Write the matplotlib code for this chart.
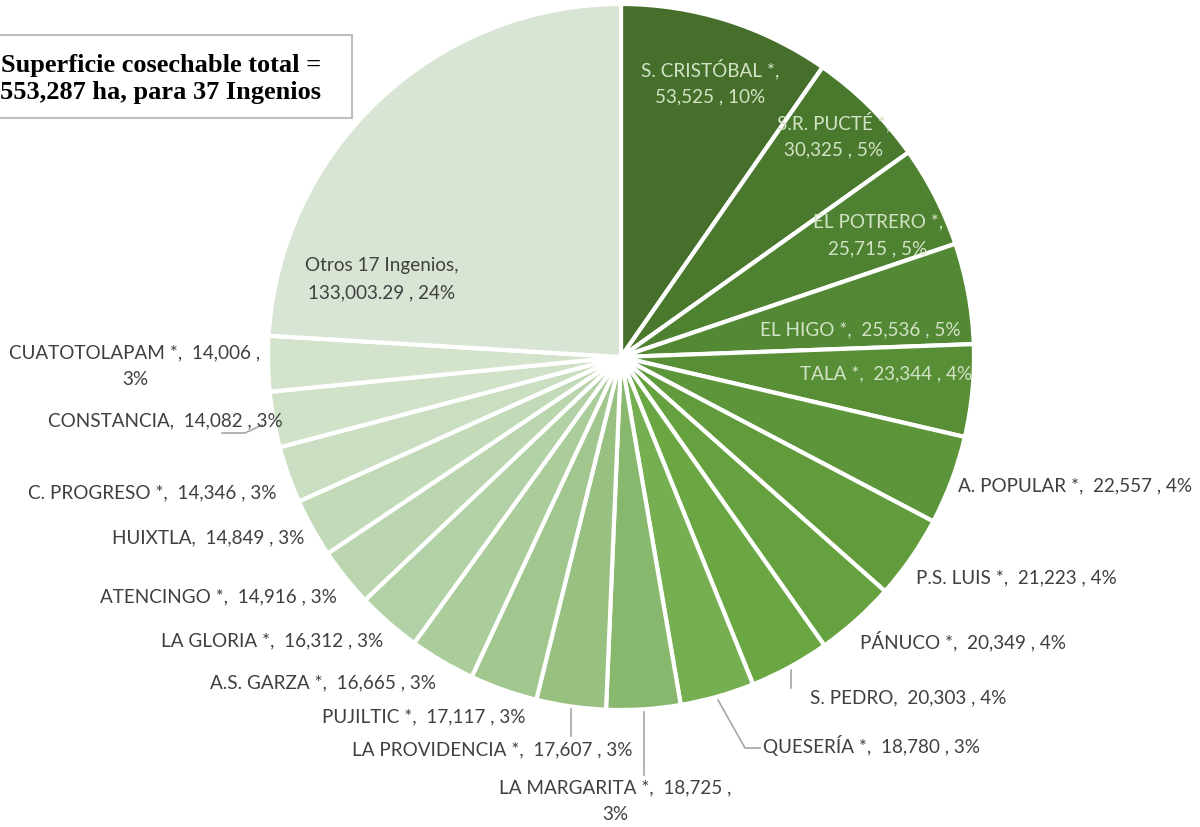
import matplotlib
matplotlib.use("Agg")
import matplotlib.pyplot as plt
from matplotlib.patches import Rectangle

# datos: superficie cosechable por ingenio (ha)
ingenios = ["S. CRISTÓBAL *", "S.R. PUCTÉ *", "EL POTRERO *", "EL HIGO *", "TALA *",
            "A. POPULAR *", "P.S. LUIS *", "PÁNUCO *", "S. PEDRO", "QUESERÍA *",
            "LA MARGARITA *", "LA PROVIDENCIA *", "PUJILTIC *", "A.S. GARZA *",
            "LA GLORIA *", "ATENCINGO *", "HUIXTLA", "C. PROGRESO *", "CONSTANCIA",
            "CUATOTOLAPAM *", "Otros 17 Ingenios"]
superficie = [53525, 30325, 25715, 25536, 23344, 22557, 21223, 20349, 20303, 18780,
              18725, 17607, 17117, 16665, 16312, 14916, 14849, 14346, 14082, 14006,
              133003.29]
etiquetas_valor = ["53,525", "30,325", "25,715", "25,536", "23,344", "22,557", "21,223",
                   "20,349", "20,303", "18,780", "18,725", "17,607", "17,117", "16,665",
                   "16,312", "14,916", "14,849", "14,346", "14,082", "14,006", "133,003.29"]
porcentajes = ["10%", "5%", "5%", "5%", "4%", "4%", "4%", "4%", "4%", "3%", "3%", "3%",
               "3%", "3%", "3%", "3%", "3%", "3%", "3%", "3%", "24%"]

colores = ["#466f2b", "#4a792e", "#4e8231", "#538934", "#578e36", "#5d963a", "#619b3c",
           "#66a13f", "#6aa742", "#76ae52", "#88b86e", "#97c081", "#a1c68e", "#abcc9b",
           "#b3d1a6", "#bbd6af", "#c3dab8", "#cadfc1", "#d0e2c8", "#d4e4cc", "#d9e5d4"]

W, H = 1200, 827


def y(v):
    return H - v


fig = plt.figure(figsize=(12, 8.27), dpi=100)
ax = fig.add_axes([0, 0, 1, 1])

ax.pie(superficie, colors=colores, startangle=90, counterclock=False,
       center=(621, y(357)), radius=353, frame=True,
       wedgeprops=dict(edgecolor="white", linewidth=3))
ax.set_xlim(0, W)
ax.set_ylim(0, H)
ax.set_aspect("equal")
ax.axis("off")

fuente = "Lato"
fs = 13.6
gris = "#404040"
claro = "#d3e3c6"

# (indice, x, y, ha, texto, color)
pos = [
    (0, 710, 82, "center", "{n},\n{v} , {p}", claro),
    (1, 834, 135, "center", "{n},\n{v} , {p}", claro),
    (2, 878, 235, "center", "{n},\n{v} , {p}", claro),
    (3, 860, 330, "center", "{n},  {v} , {p}", claro),
    (4, 886, 374, "center", "{n},  {v} , {p}", claro),
    (5, 958, 486, "left", "{n},  {v} , {p}", gris),
    (6, 916, 578, "left", "{n},  {v} , {p}", gris),
    (7, 860, 641, "left", "{n},  {v} , {p}", gris),
    (8, 810, 698, "left", "{n},  {v} , {p}", gris),
    (9, 763, 745, "left", "{n},  {v} , {p}", gris),
    (10, 615, 801, "center", "{n},  {v} ,\n{p}", gris),
    (11, 633, 750, "right", "{n},  {v} , {p}", gris),
    (12, 526, 717, "right", "{n},  {v} , {p}", gris),
    (13, 436, 683, "right", "{n},  {v} , {p}", gris),
    (14, 383, 641, "right", "{n},  {v} , {p}", gris),
    (15, 337, 597, "right", "{n},  {v} , {p}", gris),
    (16, 304, 538, "right", "{n},  {v} , {p}", gris),
    (17, 276, 493, "right", "{n},  {v} , {p}", gris),
    (18, 283, 421, "right", "{n},  {v} , {p}", gris),
    (19, 135, 366, "center", "{n},  {v} ,\n{p}", gris),
    (20, 382, 279, "center", "{n},\n{v} , {p}", gris),
]
for i, px, py, ha, fmt, col in pos:
    ax.text(px, y(py), fmt.format(n=ingenios[i], v=etiquetas_valor[i], p=porcentajes[i]),
            ha=ha, va="center", fontsize=fs, family=fuente, color=col,
            linespacing=1.7)

# lineas guia
guias = [
    ([791, 791], [670, 688]),
    ([718, 745, 760], [700, 748, 748]),
    ([644, 644], [712, 775]),
    ([571, 571], [709, 736]),
    ([222, 245, 262], [433, 433, 425]),
]
for xs, ys in guias:
    ax.plot(xs, [y(v) for v in ys], color="#a6a6a6", linewidth=1.2)

# cuadro de texto
ax.add_patch(Rectangle((-40, y(118)), 392, 83, facecolor="white",
                       edgecolor="#bfbfbf", linewidth=1.5, clip_on=True))
ax.text(161, y(79), "Superficie cosechable total =\n553,287 ha, para 37 Ingenios",
        ha="center", va="center", fontsize=19, fontweight="bold",
        family="Liberation Serif", color="black", linespacing=1.25)

fig.savefig("out.png", dpi=100)
